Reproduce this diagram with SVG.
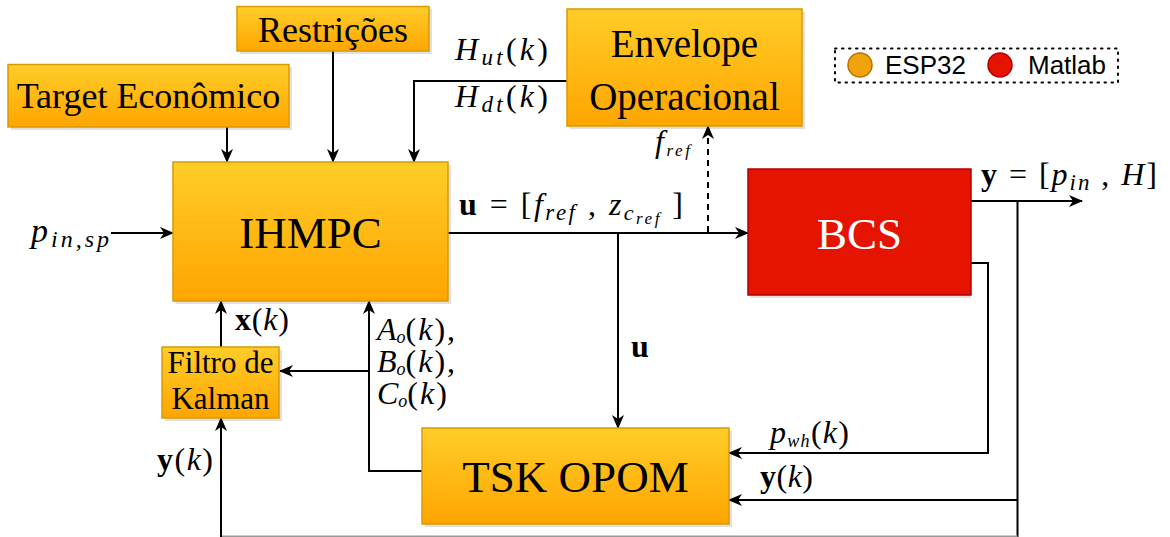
<svg xmlns="http://www.w3.org/2000/svg" width="1170" height="537" viewBox="0 0 1170 537">
  <defs>
    <linearGradient id="gOrange" x1="0" y1="0" x2="0" y2="1">
      <stop offset="0" stop-color="#ffcd28"/>
      <stop offset="1" stop-color="#ffa500"/>
    </linearGradient>
    <marker id="arrow" viewBox="0 0 14 12" refX="13" refY="6" markerWidth="14" markerHeight="12" markerUnits="userSpaceOnUse" orient="auto">
      <path d="M0,0 L14,6 L0,12 L4,6 z" fill="#000"/>
    </marker>
    <style>
      .box { fill: url(#gOrange); stroke: #d79b00; stroke-width: 1.5; }
      .red { fill: #e51400; stroke: #b20000; stroke-width: 1.5; }
      .shadow { fill: #000; opacity: 0.12; }
      .lbl { font-family: "Liberation Serif", serif; fill: #000; text-anchor: middle; }
      .math { font-family: "Liberation Serif", serif; font-size: 32px; fill: #000; }
      .it { font-style: italic; }
      .bf { font-weight: bold; }
      .sans { font-family: "Liberation Sans", sans-serif; font-size: 26px; fill: #000; }
      .wire { fill: none; stroke: #000; stroke-width: 2; }
      .arr { marker-end: url(#arrow); }
    </style>
  </defs>

  <rect width="1170" height="537" fill="#fff"/>

  <!-- connectors -->
  <g id="connectors">
    <path class="wire arr" d="M227,127 V162"/>
    <path class="wire arr" d="M333,51 V162"/>
    <path class="wire arr" d="M567,81 H414 V162"/>
    <path class="wire arr" d="M111,233 H173"/>
    <path class="wire arr" d="M448,233 H748"/>
    <path class="wire arr" d="M708,232 V126" stroke-dasharray="6 5"/>
    <path class="wire arr" d="M618,233 V428"/>
    <path class="wire arr" d="M971,201 H1082"/>
    <path class="wire" d="M1017.5,201 V537"/>
    <path class="wire arr" d="M1017.5,500 H729"/>
    <path class="wire arr" d="M971,263 H988 V453 H729"/>
    <path class="wire arr" d="M422,471 H369 V301"/>
    <path class="wire arr" d="M369,371 H280"/>
    <path class="wire arr" d="M221,347 V301"/>
    <path class="wire" d="M1017.5,536.5 H221" style="stroke:#999"/>
    <path class="wire arr" d="M221,537 V418"/>
  </g>

  <!-- blocks -->
  <g id="restricoes">
    <rect class="shadow" x="240" y="9" width="192" height="45"/>
    <rect class="box" x="237" y="6.5" width="192" height="44.5"/>
    <text class="lbl" x="333" y="42" font-size="36">Restrições</text>
  </g>
  <g id="target">
    <rect class="shadow" x="11" y="67" width="281" height="63"/>
    <rect class="box" x="8" y="64.5" width="281" height="62.5"/>
    <text class="lbl" x="148.5" y="108" font-size="36">Target Econômico</text>
  </g>
  <g id="envelope">
    <rect class="shadow" x="570" y="12" width="235" height="117"/>
    <rect class="box" x="567" y="9" width="235" height="117"/>
    <text class="lbl" x="684.5" y="57" font-size="39">Envelope</text>
    <text class="lbl" x="684.5" y="110" font-size="39">Operacional</text>
  </g>
  <g id="ihmpc">
    <rect class="shadow" x="176" y="165" width="275" height="139"/>
    <rect class="box" x="173" y="162" width="275" height="139"/>
    <text class="lbl" x="310.5" y="248" font-size="45">IHMPC</text>
  </g>
  <g id="bcs">
    <rect class="shadow" x="751" y="172" width="220" height="126"/>
    <rect class="red" x="748" y="169" width="223" height="126"/>
    <text class="lbl" x="859.5" y="249" font-size="45" style="fill:#fff">BCS</text>
  </g>
  <g id="kalman">
    <rect class="shadow" x="165" y="350" width="117" height="71"/>
    <rect class="box" x="162" y="347" width="117" height="71"/>
    <text class="lbl" x="220.5" y="373" font-size="31">Filtro de</text>
    <text class="lbl" x="220.5" y="409" font-size="31">Kalman</text>
  </g>
  <g id="tsk">
    <rect class="shadow" x="425" y="431" width="307" height="96"/>
    <rect class="box" x="422" y="428" width="307" height="96"/>
    <text class="lbl" x="575.5" y="492" font-size="45">TSK OPOM</text>
  </g>

  <!-- legend -->
  <g id="legend">
    <rect x="835" y="48.5" width="283" height="34" fill="none" stroke="#000" stroke-width="2" stroke-dasharray="1.5 5.5" stroke-linecap="round"/>
    <circle cx="860" cy="65" r="12" fill="#f0a30a" stroke="#bd7000" stroke-width="1.5"/>
    <text class="sans" x="885" y="74">ESP32</text>
    <circle cx="1000" cy="65" r="12" fill="#e51400" stroke="#b20000" stroke-width="1.5"/>
    <text class="sans" x="1028" y="74">Matlab</text>
  </g>

  <!-- signal labels -->
  <g id="labels">
    <text class="math" x="455" y="60" textLength="93" lengthAdjust="spacing"><tspan class="it">H</tspan><tspan class="it" font-size="23" dy="5">ut</tspan><tspan dy="-5">(</tspan><tspan class="it">k</tspan>)</text>
    <text class="math" x="455" y="107" textLength="93" lengthAdjust="spacing"><tspan class="it">H</tspan><tspan class="it" font-size="23" dy="5">dt</tspan><tspan dy="-5">(</tspan><tspan class="it">k</tspan>)</text>
    <text class="math" x="31" y="242" textLength="78" lengthAdjust="spacing"><tspan class="it" font-size="34">p</tspan><tspan class="it" font-size="24" dy="5">in,sp</tspan></text>
    <text class="math" x="459" y="215" textLength="224" lengthAdjust="spacing"><tspan class="bf">u</tspan> = [<tspan class="it">f</tspan><tspan class="it" font-size="23" dy="5">ref</tspan><tspan dy="-5"> , </tspan><tspan class="it">z</tspan><tspan class="it" font-size="22" dy="5">c</tspan><tspan class="it" font-size="17" dy="4">ref</tspan><tspan dy="-9"> ]</tspan></text>
    <text class="math" x="655" y="152" font-size="23" textLength="35" lengthAdjust="spacing"><tspan class="it">f</tspan><tspan class="it" font-size="17" dy="4">ref</tspan></text>
    <text class="math" x="981" y="185" textLength="176" lengthAdjust="spacing"><tspan class="bf">y</tspan> = [<tspan class="it">p</tspan><tspan class="it" font-size="23" dy="5">in</tspan><tspan dy="-5"> , </tspan><tspan class="it">H</tspan>]</text>
    <text class="math" x="235" y="330" textLength="54" lengthAdjust="spacing"><tspan class="bf">x</tspan>(<tspan class="it">k</tspan>)</text>
    <!-- model matrices, one block of three lines -->
    <text class="math" font-size="26"><tspan x="377" y="340" class="it">A</tspan><tspan class="it" font-size="18" dy="3">o</tspan><tspan dy="-3" letter-spacing="2">(</tspan><tspan class="it" letter-spacing="2">k</tspan><tspan letter-spacing="2">),</tspan><tspan x="377" y="372" class="it">B</tspan><tspan class="it" font-size="18" dy="3">o</tspan><tspan dy="-3" letter-spacing="2">(</tspan><tspan class="it" letter-spacing="2">k</tspan><tspan letter-spacing="2">),</tspan><tspan x="377" y="404" class="it">C</tspan><tspan class="it" font-size="18" dy="3">o</tspan><tspan dy="-3" letter-spacing="2">(</tspan><tspan class="it" letter-spacing="2">k</tspan><tspan letter-spacing="2">)</tspan></text>
    <text class="math" x="157" y="470" textLength="56" lengthAdjust="spacing"><tspan class="bf">y</tspan>(<tspan class="it">k</tspan>)</text>
    <text class="math bf" x="631" y="357" font-size="33">u</text>
    <text class="math" x="770" y="443" font-size="26" textLength="79" lengthAdjust="spacing"><tspan class="it">p</tspan><tspan class="it" font-size="18" dy="4">wh</tspan><tspan dy="-4">(</tspan><tspan class="it">k</tspan>)</text>
    <text class="math" x="760" y="487" textLength="53" lengthAdjust="spacing"><tspan class="bf">y</tspan>(<tspan class="it">k</tspan>)</text>
  </g>
</svg>
